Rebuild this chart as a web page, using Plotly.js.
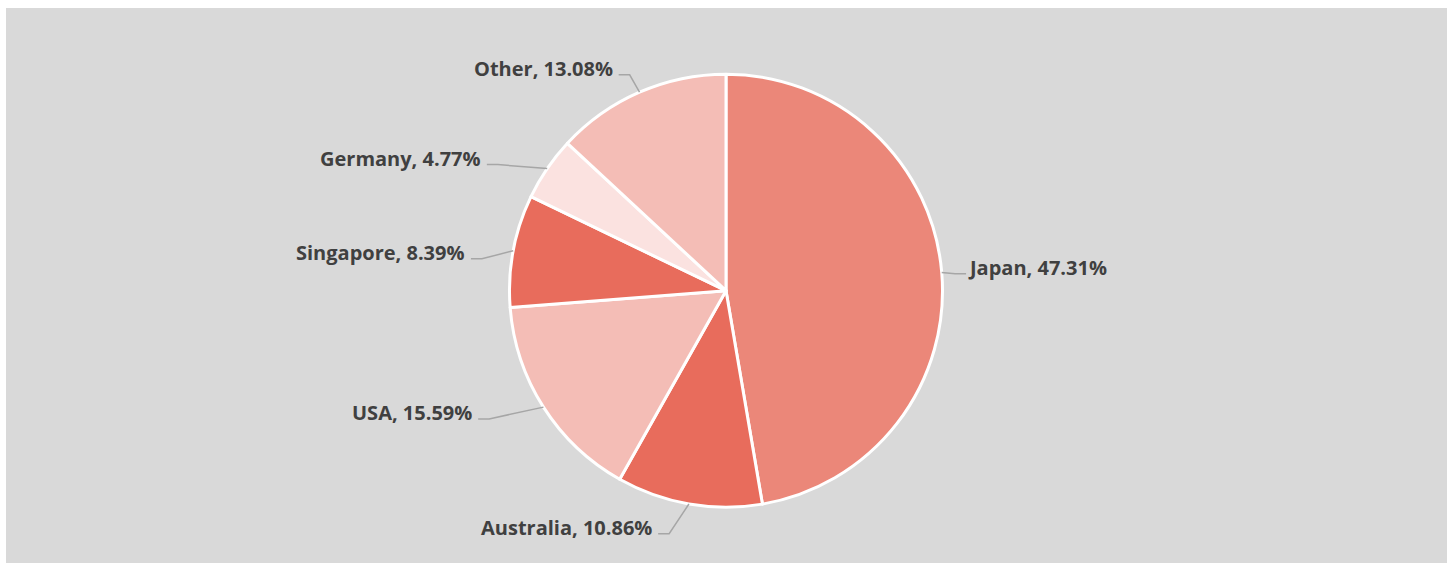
<!DOCTYPE html>
<html>
<head>
<meta charset="utf-8">
<script src="https://cdn.plot.ly/plotly-3.0.1.min.js"></script>
<style>
  html, body { margin: 0; padding: 0; background: #ffffff; width: 1455px; height: 563px; overflow: hidden; }
  #chart { position: absolute; left: 6px; top: 8px; width: 1441px; height: 555px; }
</style>
</head>
<body>
<div id="chart"></div>
<script>
// ---- data ----
const countries = ['Japan', 'Australia', 'USA', 'Singapore', 'Germany', 'Other'];
const shares = [47.31, 10.86, 15.59, 8.39, 4.77, 13.08];

// ---- styling ----
const sliceColors = ['#EB8779', '#E86C5C', '#F4BDB6', '#E86C5C', '#FBE2E0', '#F4BDB6'];
// label placement tuning (radius multiple and small angular nudge, degrees)
const labelRadius = [1.061, 1.153, 1.244, 1.137, 1.204, 1.092];
const labelTurn = [0.6, 3.3, 4.1, -3.2, -5.4, -0.5];

const W = 1441, H = 555;
const cx = 720, cy = 282.7, R = 216.5;

const total = shares.reduce((a, b) => a + b, 0);
const toPx = x => x / W;
const toPy = y => 1 - y / H;
const rad = d => d * Math.PI / 180;

const annotations = [];
const shapes = [];
let cum = 0;
shares.forEach((v, i) => {
  const mid = (cum + v / 2) / total * 360;
  cum += v;
  const P = [cx + R * Math.sin(rad(mid)), cy - R * Math.cos(rad(mid))];
  const te = mid + labelTurn[i];
  const k = labelRadius[i];
  const E = [cx + k * R * Math.sin(rad(te)), cy - k * R * Math.cos(rad(te))];
  const side = Math.sin(rad(te)) >= 0 ? 1 : -1;
  const Hp = [E[0] + side * 11, E[1]];
  shapes.push({
    type: 'path', xref: 'paper', yref: 'paper',
    path: `M ${toPx(P[0])},${toPy(P[1])} L ${toPx(E[0])},${toPy(E[1])} L ${toPx(Hp[0])},${toPy(Hp[1])}`,
    line: { color: '#A6A6A6', width: 1.5 }
  });
  annotations.push({
    xref: 'paper', yref: 'paper',
    x: toPx(Hp[0] + (side > 0 ? 0 : -4)), y: toPy(Hp[1] - 6),
    xanchor: side > 0 ? 'left' : 'right', yanchor: 'middle',
    showarrow: false,
    text: `${countries[i]}, ${v.toFixed(2)}%`,
    font: { family: 'Open Sans, Liberation Sans, sans-serif', size: 20, color: '#404040', weight: 700 }
  });
});

const trace = {
  type: 'pie',
  labels: countries,
  values: shares,
  sort: false,
  direction: 'clockwise',
  rotation: 0,
  marker: { colors: sliceColors, line: { color: '#FFFFFF', width: 3 } },
  textinfo: 'none',
  hoverinfo: 'label+percent',
  showlegend: false,
  domain: {
    x: [(cx - R) / W, (cx + R) / W],
    y: [1 - (cy + R) / H, 1 - (cy - R) / H]
  }
};

const layout = {
  width: W, height: H,
  paper_bgcolor: '#D9D9D9',
  plot_bgcolor: '#D9D9D9',
  margin: { l: 0, r: 0, t: 0, b: 0, pad: 0 },
  showlegend: false,
  annotations: annotations,
  shapes: shapes
};

Plotly.newPlot('chart', [trace], layout, { displayModeBar: false, responsive: false });
</script>
</body>
</html>
